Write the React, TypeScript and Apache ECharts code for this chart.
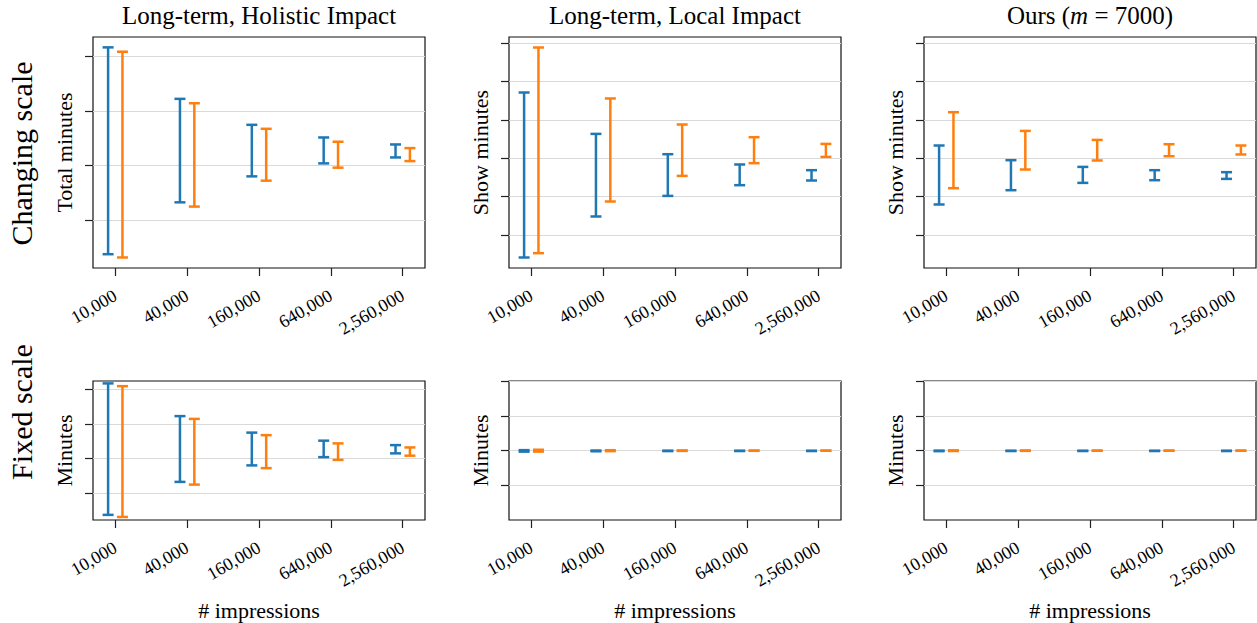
import React, { useEffect, useRef } from 'react';
import * as echarts from 'echarts';

// ---------- data ----------
const impressions = ['10,000', '40,000', '160,000', '640,000', '2,560,000'];
const tickIndex = [0, 1, 2, 3, 4];
const panelTitles = ['Long-term, Holistic Impact', 'Long-term, Local Impact', 'Ours (m = 7000)'];
const rowLabels = ['Changing scale', 'Fixed scale'];
const topYNames = ['Total minutes', 'Show minutes', 'Show minutes'];
const bottomYName = 'Minutes';
const xName = '# impressions';

// Long-term, Holistic Impact (total minutes)
const holisticBlueLow = [3.78, 13.29, 18.05, 20.43, 21.52];
const holisticBlueHigh = [41.7, 32.26, 27.5, 25.18, 23.9];
const holisticOrangeLow = [3.18, 12.51, 17.26, 19.64, 20.85];
const holisticOrangeHigh = [40.9, 31.46, 26.77, 24.4, 23.23];

// Long-term, Local Impact (show minutes)
const localBlueLow = [-2.59, -1.52, -0.983, -0.703, -0.581];
const localBlueHigh = [1.715, 0.635, 0.105, -0.163, -0.312];
const localOrangeLow = [-2.477, -1.129, -0.461, -0.129, 0.035];
const localOrangeHigh = [2.889, 1.559, 0.88, 0.549, 0.374];

// Ours (m = 7000) (show minutes)
const oursBlueLow = [-1.207, -0.834, -0.643, -0.573, -0.539];
const oursBlueHigh = [0.332, -0.051, -0.226, -0.312, -0.364];
const oursOrangeLow = [-0.782, -0.294, -0.059, 0.053, 0.098];
const oursOrangeHigh = [1.201, 0.713, 0.478, 0.366, 0.332];

// y axis ranges / tick values per panel
const holisticChangingTicks = [10, 20, 30, 40];
const holisticChangingRange = [1.25, 43.6];
const showChangingTicks = [-2, -1, 0, 1, 2, 3];
const showChangingRange = [-2.864, 3.163];
const holisticFixedTicks = [10, 20, 30, 40];
const holisticFixedRange = [2.3, 42.39];
const showFixedTicks = [-100, 0, 100, 200];
const showFixedRange = [-198.6, 200];

// ---------- style ----------
const BLUE = '#1f77b4';
const ORANGE = '#ff7f0e';
const FONT = "'Liberation Serif', 'Times New Roman', serif";
const DODGE = 0.1;
const colLefts = [93, 509, 924];
const rowTops = [37, 381];
const rowHeights = [231, 139];
const PANEL_W = 332;

const renderErrorBar = (params: any, api: any) => {
  const x = api.value(0);
  const lo = api.coord([x, api.value(1)]);
  const hi = api.coord([x, api.value(2)]);
  const color = api.visual('color');
  const cap = 5.5;
  const style = { stroke: color, lineWidth: 2.5, fill: null };
  return {
    type: 'group',
    children: [
      { type: 'line', shape: { x1: lo[0], y1: lo[1], x2: hi[0], y2: hi[1] }, style },
      { type: 'line', shape: { x1: lo[0] - cap, y1: lo[1], x2: lo[0] + cap, y2: lo[1] }, style },
      { type: 'line', shape: { x1: hi[0] - cap, y1: hi[1], x2: hi[0] + cap, y2: hi[1] }, style },
    ],
  };
};

const toBars = (low: number[], high: number[], offset: number) =>
  low.map((l, i) => [i + offset, l, high[i]]);

export default function App() {
  const ref = useRef<HTMLDivElement>(null);

  useEffect(() => {
    if (!ref.current) return;
    const chart = echarts.init(ref.current, null, { renderer: 'svg' });

    const panels = [
      { row: 0, col: 0, bl: holisticBlueLow, bh: holisticBlueHigh, ol: holisticOrangeLow, oh: holisticOrangeHigh, ticks: holisticChangingTicks, range: holisticChangingRange, yName: topYNames[0] },
      { row: 0, col: 1, bl: localBlueLow, bh: localBlueHigh, ol: localOrangeLow, oh: localOrangeHigh, ticks: showChangingTicks, range: showChangingRange, yName: topYNames[1] },
      { row: 0, col: 2, bl: oursBlueLow, bh: oursBlueHigh, ol: oursOrangeLow, oh: oursOrangeHigh, ticks: showChangingTicks, range: showChangingRange, yName: topYNames[2] },
      { row: 1, col: 0, bl: holisticBlueLow, bh: holisticBlueHigh, ol: holisticOrangeLow, oh: holisticOrangeHigh, ticks: holisticFixedTicks, range: holisticFixedRange, yName: bottomYName },
      { row: 1, col: 1, bl: localBlueLow, bh: localBlueHigh, ol: localOrangeLow, oh: localOrangeHigh, ticks: showFixedTicks, range: showFixedRange, yName: bottomYName },
      { row: 1, col: 2, bl: oursBlueLow, bh: oursBlueHigh, ol: oursOrangeLow, oh: oursOrangeHigh, ticks: showFixedTicks, range: showFixedRange, yName: bottomYName },
    ];

    const tickStyle = { color: '#222', width: 1.2 };

    const grid = panels.map((p) => ({
      left: colLefts[p.col],
      top: rowTops[p.row],
      width: PANEL_W,
      height: rowHeights[p.row],
      show: true,
      borderColor: '#111',
      borderWidth: 1.2,
      backgroundColor: 'transparent',
      containLabel: false,
      outerBoundsMode: 'none',
    }));

    const xAxis = panels.map((p, i) => ({
      type: 'value',
      gridIndex: i,
      min: -0.31,
      max: 4.31,
      axisLine: { show: false, onZero: false },
      splitLine: { show: false },
      axisTick: { show: true, length: 8, lineStyle: tickStyle, customValues: tickIndex },
      axisLabel: {
        show: true,
        customValues: tickIndex,
        formatter: (v: number) => impressions[Math.round(v)],
        rotate: 30,
        align: 'right',
        verticalAlign: 'middle',
        margin: 26,
        fontFamily: FONT,
        fontSize: 18,
        color: '#000',
      },
      name: p.row === 1 ? xName : '',
      nameLocation: 'middle',
      nameGap: 79,
      nameTextStyle: { fontFamily: FONT, fontSize: 22, color: '#000' },
    }));

    const yAxis = panels.map((p, i) => ({
      type: 'value',
      gridIndex: i,
      min: p.range[0],
      max: p.range[1],
      axisLine: { show: false, onZero: false },
      axisTick: { show: true, length: 8, lineStyle: tickStyle, customValues: p.ticks },
      axisLabel: { show: false, customValues: p.ticks },
      splitLine: { show: true, lineStyle: { color: '#d9d9d9', width: 1 } },
      name: p.yName,
      nameLocation: 'middle',
      nameRotate: 90,
      nameGap: 18,
      nameTextStyle: { fontFamily: FONT, fontSize: 22, color: '#000' },
    }));

    const series: any[] = [];
    panels.forEach((p, i) => {
      series.push({
        type: 'custom',
        name: 'blue',
        xAxisIndex: i,
        yAxisIndex: i,
        color: BLUE,
        itemStyle: { color: BLUE },
        renderItem: renderErrorBar,
        encode: { x: 0, y: [1, 2] },
        data: toBars(p.bl, p.bh, -DODGE),
        clip: false,
      });
      series.push({
        type: 'custom',
        name: 'orange',
        xAxisIndex: i,
        yAxisIndex: i,
        color: ORANGE,
        itemStyle: { color: ORANGE },
        renderItem: renderErrorBar,
        encode: { x: 0, y: [1, 2] },
        data: toBars(p.ol, p.oh, DODGE),
        clip: false,
      });
    });

    const graphic: any[] = [];
    panelTitles.forEach((t, c) => {
      const cx = colLefts[c] + PANEL_W / 2;
      if (c === 2) {
        graphic.push({
          type: 'text',
          x: cx,
          y: 15,
          style: {
            text: '{n|Ours (}{i|m}{n| = 7000)}',
            align: 'center',
            verticalAlign: 'middle',
            fill: '#000',
            rich: {
              n: { fontFamily: FONT, fontSize: 25, fill: '#000' },
              i: { fontFamily: FONT, fontSize: 25, fontStyle: 'italic', fill: '#000' },
            },
          },
        });
      } else {
        graphic.push({
          type: 'text',
          x: cx,
          y: 15,
          style: {
            text: t,
            align: 'center',
            verticalAlign: 'middle',
            fontFamily: FONT,
            fontSize: 25,
            fill: '#000',
          },
        });
      }
    });
    const rowCenters = [153.5, 412];
    rowLabels.forEach((t, r) => {
      graphic.push({
        type: 'text',
        x: 21,
        y: rowCenters[r],
        rotation: Math.PI / 2,
        style: {
          text: t,
          align: 'center',
          verticalAlign: 'middle',
          fontFamily: FONT,
          fontSize: 30,
          fill: '#000',
        },
      });
    });

    chart.setOption({
      animation: false,
      backgroundColor: '#fff',
      textStyle: { fontFamily: FONT },
      grid,
      xAxis,
      yAxis,
      series,
      graphic,
    });

    return () => chart.dispose();
  }, []);

  return (
    <div
      ref={ref}
      style={{ position: 'absolute', left: 0, top: 0, width: 1257, height: 623 }}
    />
  );
}
